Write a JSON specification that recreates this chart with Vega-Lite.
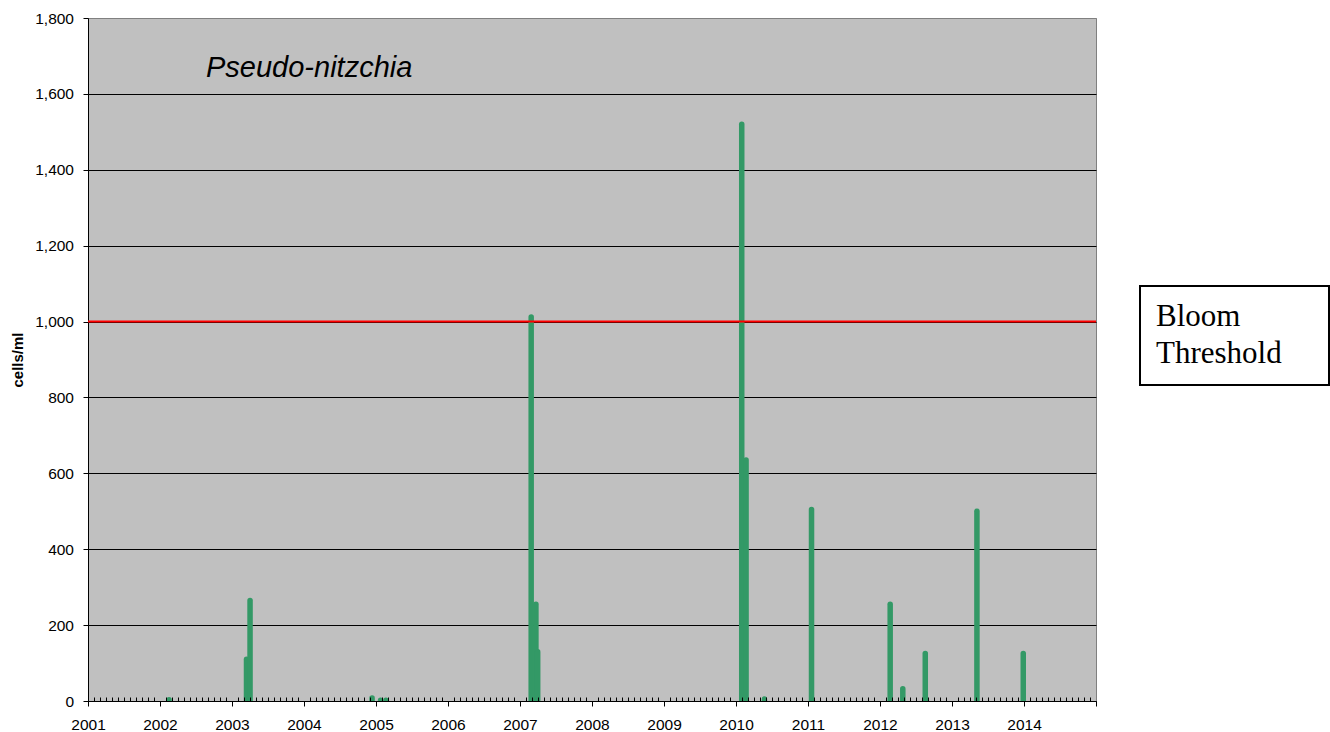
{
  "$schema": "https://vega.github.io/schema/vega-lite/v6.json",
  "width": 1008,
  "height": 683,
  "autosize": {"type": "none"},
  "padding": {"left": 88, "top": 18, "right": 234, "bottom": 31},
  "background": "white",
  "title": {
    "text": "Pseudo-nitzchia",
    "anchor": "start",
    "frame": "group",
    "orient": "top",
    "offset": 0,
    "dx": 118,
    "dy": 95.4,
    "baseline": "alphabetic",
    "font": "Liberation Sans",
    "fontStyle": "italic",
    "fontWeight": "normal",
    "fontSize": 29,
    "color": "black"
  },
  "config": {
    "view": {"fill": "#c0c0c0", "stroke": "#808080", "strokeWidth": 1},
    "font": "Liberation Sans"
  },
  "datasets": {
    "counts": [
      {"date": "2002-02-16", "cells": 3},
      {"date": "2003-03-16", "cells": 110},
      {"date": "2003-04-03", "cells": 265},
      {"date": "2004-12-12", "cells": 8},
      {"date": "2005-01-24", "cells": 2},
      {"date": "2005-02-20", "cells": 2},
      {"date": "2007-02-27", "cells": 1012},
      {"date": "2007-03-23", "cells": 255},
      {"date": "2007-04-01", "cells": 130},
      {"date": "2010-01-30", "cells": 1520},
      {"date": "2010-02-21", "cells": 635},
      {"date": "2010-05-25", "cells": 5},
      {"date": "2011-01-19", "cells": 505},
      {"date": "2012-02-22", "cells": 255},
      {"date": "2012-04-26", "cells": 32},
      {"date": "2012-08-18", "cells": 125},
      {"date": "2013-05-07", "cells": 500},
      {"date": "2013-12-28", "cells": 125}
    ],
    "threshold": [
      {"label": "Bloom Threshold", "value": 1000, "start": "2001-01-01", "end": "2015-01-01"}
    ]
  },
  "layer": [
    {
      "data": {"name": "counts"},
      "mark": {"type": "rule", "strokeWidth": 5.5, "strokeCap": "round", "color": "#339966", "clip": true},
      "encoding": {
        "x": {
          "field": "date",
          "type": "temporal",
          "scale": {
            "type": "utc",
            "domain": [
              {"year": 2001, "month": 1, "date": 1, "utc": true},
              {"year": 2015, "month": 1, "date": 1, "utc": true}
            ]
          },
          "axis": {
            "title": null,
            "tickCount": {"interval": "month", "step": 1},
            "labelExpr": "utcmonth(datum.value) === 0 && utcyear(datum.value) < 2015 ? utcFormat(datum.value, '%Y') : ''",
            "tickSize": {"condition": {"test": "utcmonth(datum.value) === 0", "value": 5}, "value": -4},
            "tickColor": "black",
            "tickWidth": 1,
            "domainColor": "black",
            "domainWidth": 1,
            "labelFont": "Liberation Sans",
            "labelFontSize": 15.5,
            "labelColor": "black",
            "labelPadding": 11,
            "labelFlush": false,
            "labelOverlap": false,
            "labelBound": false,
            "grid": false,
            "zindex": 1
          }
        },
        "y": {
          "field": "cells",
          "type": "quantitative",
          "scale": {"domain": [0, 1800]},
          "axis": {
            "title": "cells/ml",
            "values": [0, 200, 400, 600, 800, 1000, 1200, 1400, 1600, 1800],
            "format": ",d",
            "tickSize": 5,
            "tickColor": "black",
            "domainColor": "black",
            "labelFont": "Liberation Sans",
            "labelFontSize": 15.5,
            "labelColor": "black",
            "labelPadding": 9.5,
            "grid": true,
            "gridColor": {"condition": {"test": "datum.value >= 1800", "value": "#808080"}, "value": "black"},
            "gridWidth": 1,
            "titleFont": "Liberation Sans",
            "titleFontSize": 15,
            "titleFontWeight": "bold",
            "titleColor": "black",
            "titlePadding": 9,
            "zindex": 0
          }
        },
        "y2": {"datum": 0}
      }
    },
    {
      "data": {"name": "threshold"},
      "mark": {"type": "rule", "strokeWidth": 2},
      "encoding": {
        "x": {"field": "start", "type": "temporal", "title": null},
        "x2": {"field": "end"},
        "y": {"field": "value", "type": "quantitative", "title": "cells/ml"},
        "color": {
          "field": "label",
          "type": "nominal",
          "scale": {"range": ["#ff0000"]},
          "legend": {
            "orient": "none",
            "legendX": 1052,
            "legendY": 268,
            "title": ["Bloom", "Threshold"],
            "titleOrient": "left",
            "titleBaseline": "top",
            "titleAnchor": "start",
            "titleFont": "Liberation Serif",
            "titleFontSize": 31,
            "titleFontWeight": "normal",
            "titleColor": "black",
            "titleLineHeight": 37,
            "titleLimit": 400,
            "titlePadding": 30,
            "padding": 16,
            "strokeColor": "black",
            "fillColor": "white",
            "symbolSize": 0,
            "symbolOpacity": 0,
            "symbolStrokeWidth": 0,
            "labelExpr": "''",
            "labelFontSize": 1,
            "labelOffset": 0,
            "encode": {"legend": {"update": {"strokeWidth": {"value": 2}}}}
          }
        }
      }
    }
  ]
}
